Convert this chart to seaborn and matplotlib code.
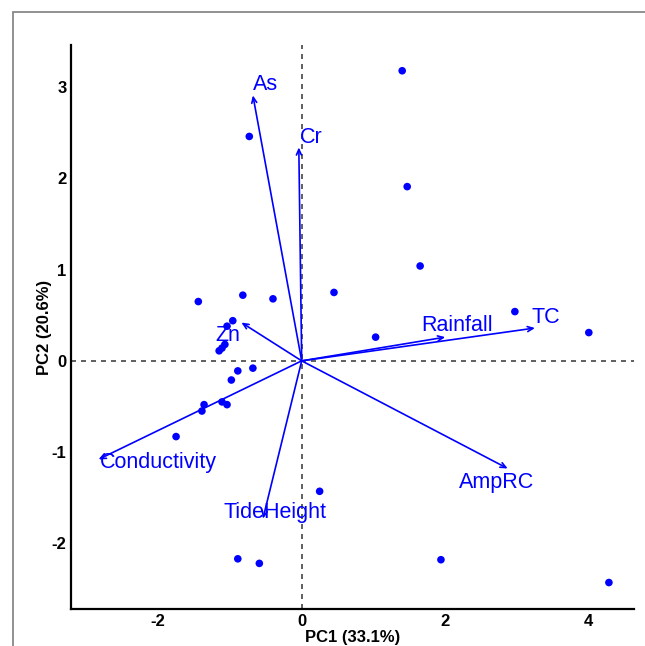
import matplotlib
matplotlib.use("Agg")
import matplotlib.pyplot as plt
from matplotlib.patches import Rectangle
import numpy as np
import pandas as pd
import seaborn as sns

# individuals (PC scores)
pc1 = [1.40, -0.73, 1.47, 1.65, 0.45, -0.82, -0.40, -1.44, -0.96, -1.04,
       1.03, 2.97, 4.00, -1.15, -1.11, -1.07, -0.68, -0.89, -0.98, -1.36,
       -1.39, -1.11, -1.04, -1.75, 0.25, -0.89, -0.59, 1.94, 4.28]
pc2 = [3.18, 2.46, 1.91, 1.04, 0.75, 0.72, 0.68, 0.65, 0.44, 0.38,
       0.26, 0.54, 0.31, 0.11, 0.14, 0.18, -0.08, -0.11, -0.21, -0.48,
       -0.55, -0.45, -0.48, -0.83, -1.43, -2.17, -2.22, -2.18, -2.43]

# variables (loadings, scaled)
var_names = ["As", "Cr", "Zn", "Conductivity", "TideHeight", "Rainfall", "TC", "AmpRC"]
var_x = [-0.68, -0.04, -0.84, -2.83, -0.54, 2.00, 3.25, 2.87]
var_y = [2.91, 2.34, 0.42, -1.08, -1.73, 0.26, 0.36, -1.18]
# repelled label positions
lab_x = [-0.51, 0.14, -1.03, -1.99, -0.37, 2.16, 3.40, 2.71]
lab_y = [3.03, 2.45, 0.28, -1.11, -1.66, 0.39, 0.48, -1.33]

sns.set_style("white")
plt.rcParams["font.family"] = ["Liberation Sans", "DejaVu Sans"]
plt.rcParams["axes.unicode_minus"] = False

fig = plt.figure(figsize=(6.45, 6.46), dpi=100)
ax = fig.add_axes([0.1105, 0.0573, 0.983 - 0.1105, 0.930 - 0.0573])

blue = "#0000FF"
ax.axhline(0, color="#444444", lw=1.2, ls=(0, (3, 3)), zorder=1)
ax.axvline(0, color="#444444", lw=1.2, ls=(0, (3, 3)), zorder=1)

df = pd.DataFrame({"PC1": pc1, "PC2": pc2})
sns.scatterplot(data=df, x="PC1", y="PC2", color=blue, s=30, edgecolor="none", ax=ax, zorder=3)

for name, x, y, lx, ly in zip(var_names, var_x, var_y, lab_x, lab_y):
    ax.annotate("", xy=(x, y), xytext=(0, 0),
                arrowprops=dict(arrowstyle="->,head_length=0.4,head_width=0.18",
                                color=blue, lw=1.2, shrinkA=0, shrinkB=0))
    ax.text(lx, ly, name, color=blue, fontsize=15.5, ha="center", va="center")

ax.set_xlim(-3.21, 4.63)
ax.set_ylim(-2.72, 3.46)
ax.set_xticks([-2, 0, 2, 4])
ax.set_yticks([-2, -1, 0, 1, 2, 3])
ax.tick_params(axis="both", length=2, width=0.8, color="#555555", pad=1.5,
               labelsize=12, labelcolor="black", direction="out")
for lab in ax.get_xticklabels() + ax.get_yticklabels():
    lab.set_fontweight("bold")
ax.set_xlabel("PC1 (33.1%)", fontsize=12, fontweight="bold", color="black", labelpad=1)
ax.set_ylabel("PC2 (20.6%)", fontsize=12, fontweight="bold", color="black", labelpad=0)

for side in ["top", "right"]:
    ax.spines[side].set_visible(False)
for side in ["left", "bottom"]:
    ax.spines[side].set_color("black")
    ax.spines[side].set_linewidth(1.6)

# outer panel frame (cut off at right and bottom)
fig.add_artist(Rectangle((0.0197, -0.2), 1.5, 0.982 + 0.2, transform=fig.transFigure,
                         fill=False, ec="#888888", lw=1.3))

fig.savefig("out.png", dpi=100)
